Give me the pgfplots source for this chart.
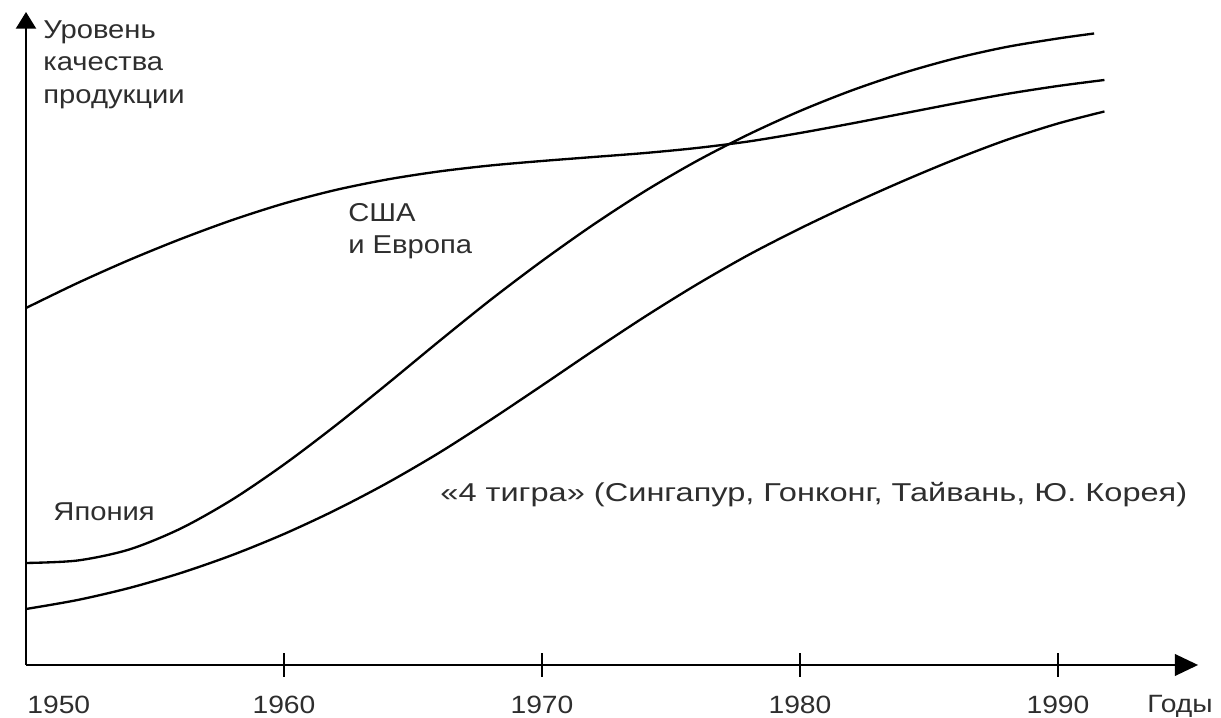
\documentclass[border=0pt]{standalone}
\usepackage{fontspec}
\setmainfont{Liberation Sans}[FakeStretch=1.13]
\newfontfamily\widefont{Liberation Sans}[FakeStretch=1.26]
\usepackage{pgfplots}
\pgfplotsset{compat=1.18}
\usetikzlibrary{arrows.meta}
\definecolor{txt}{gray}{0.18}
\begin{document}
\begin{tikzpicture}[font=\fontsize{15.5}{19.5}\selectfont]
\begin{axis}[
  x=15.48pt, y=0.6pt,
  xmin=1950, xmax=1995.43, ymin=0, ymax=653,
  axis lines=left,
  axis line style={line width=1.3pt, black},
  x axis line style={-{Triangle[length=14pt,width=13pt]}},
  y axis line style={-{Triangle[length=10pt,width=12pt]}},
  xtick={1960,1970,1980,1990},
  xticklabels={1960,1970,1980,1990},
  ytick=\empty,
  tick align=center,
  major tick length=14pt,
  tick style={line width=1.3pt, black},
  xticklabel style={font=\fontsize{15}{19.5}\selectfont, text=txt, anchor=base, inner sep=0pt, yshift=-22.2pt},
  clip=false,
]
% invisible frame giving the picture the reference's proportions
\path (axis cs:1948.992,-53) rectangle (axis cs:1996.318,665);

% USA and Europe
\addplot[black, line width=1.4pt, smooth] coordinates {(1950,357) (1952,382) (1954,405) (1956,426) (1958,445) (1960,461.5) (1962,475) (1964,485.5) (1966,493.5) (1968,499.5) (1970,504) (1972,508) (1974,512) (1976,517) (1978,523.5) (1980,532) (1982,541.5) (1984,551.5) (1986,561.5) (1988,571) (1990,579) (1991.8,585)};
% Japan
\addplot[black, line width=1.4pt, smooth] coordinates {(1950,102) (1952,104.5) (1954,115.5) (1956,136.5) (1958,165.5) (1960,200.5) (1962,239.5) (1964,281) (1966,323.5) (1968,365) (1970,404) (1972,440.5) (1974,474) (1976,504) (1978,530.5) (1980,554) (1982,574.5) (1984,592) (1986,606.5) (1988,618) (1990,626.5) (1991.4,631.5)};
% Four tigers
\addplot[black, line width=1.4pt, smooth] coordinates {(1950,56) (1952,65) (1954,77) (1956,92) (1958,110) (1960,131) (1962,155) (1964,182) (1966,212) (1968,245) (1970,279.5) (1972,314.5) (1974,348.5) (1976,380.5) (1978,410) (1980,436.5) (1982,461) (1984,484) (1986,505.5) (1988,525) (1990,541.5) (1991.8,553.5)};

\node[anchor=north west, align=left, inner sep=0pt, text=txt] at (axis cs:1950.66,645) {Уровень\\качества\\продукции};
\node[anchor=north west, align=left, inner sep=0pt, text=txt] at (axis cs:1962.48,462) {США\\и Европа};
\node[anchor=north west, inner sep=0pt, text=txt] at (axis cs:1951.05,163) {Япония};
\node[anchor=north west, inner sep=0pt, text=txt] at (axis cs:1966.05,183) {\widefont «4 тигра» (Сингапур, Гонконг, Тайвань, Ю. Корея)};
\node[anchor=base west, inner sep=0pt, text=txt, font=\fontsize{15}{19.5}\selectfont] at (axis cs:1993.45,-48) {Годы};
\node[anchor=base west, inner sep=0pt, text=txt, font=\fontsize{15}{19.5}\selectfont] at (axis cs:1950.04,-49) {1950};
\end{axis}
\end{tikzpicture}
\end{document}
